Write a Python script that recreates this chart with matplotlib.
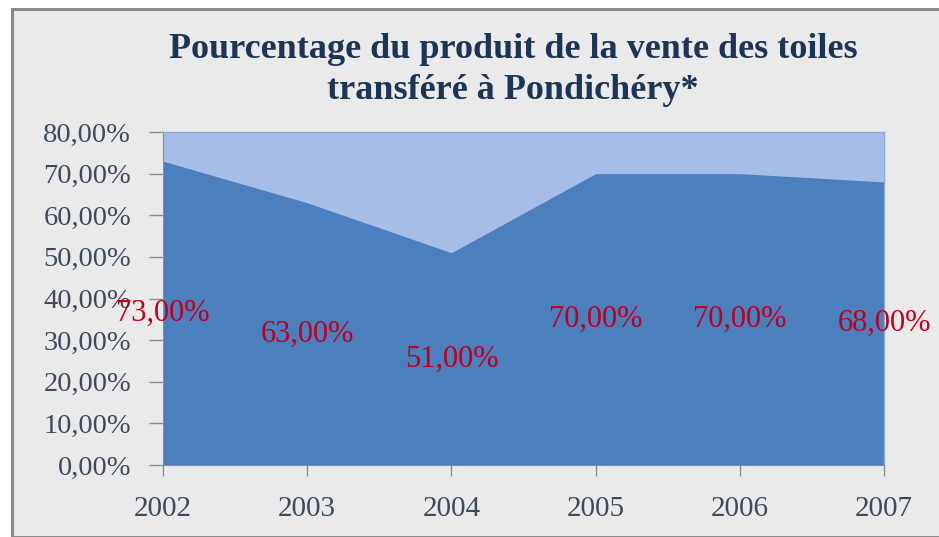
import matplotlib
matplotlib.use("Agg")
import matplotlib.pyplot as plt
from matplotlib.patches import Rectangle

years = ["2002", "2003", "2004", "2005", "2006", "2007"]
values = [73.0, 63.0, 51.0, 70.0, 70.0, 68.0]
labels = ["73,00%", "63,00%", "51,00%", "70,00%", "70,00%", "68,00%"]
yticks = [0, 10, 20, 30, 40, 50, 60, 70, 80]
yticklabels = ["0,00%", "10,00%", "20,00%", "30,00%", "40,00%", "50,00%", "60,00%", "70,00%", "80,00%"]
title = "Pourcentage du produit de la vente des toiles\ntransféré à Pondichéry*"

plt.rcParams['font.family'] = ['Liberation Serif', 'DejaVu Serif']

W, H = 939, 537
fig = plt.figure(figsize=(W / 100, H / 100), dpi=100, facecolor="white")

# chart background panel with border
fig.patches.append(Rectangle((12 / W, 0), 1 - 12 / W + 0.01, 1 - 9 / H,
                             transform=fig.transFigure, facecolor="#eaeaea",
                             edgecolor="#8a8a8a", linewidth=2.2, zorder=-5))

ax = fig.add_axes([163 / W, 1 - 465 / H, (884 - 163) / W, (465 - 132) / H])
ax.set_zorder(2)
ax.set_facecolor("#a6bee7")
x = list(range(len(years)))
ax.fill_between(x, 0, values, color="#4b7fbe", linewidth=0, zorder=2)

ax.set_xlim(0, len(years) - 1)
ax.set_ylim(0, 80)
ax.set_yticks(yticks)
ax.set_yticklabels(yticklabels)
ax.set_xticks(x)
ax.set_xticklabels(years)

tick_color = "#3d4a5c"
ax.tick_params(axis="y", direction="out", length=10, width=1, color="#8c8c8c",
               labelsize=20.5, labelcolor=tick_color, pad=13)
ax.tick_params(axis="x", direction="out", length=8, width=1, color="#8c8c8c",
               labelsize=21, labelcolor=tick_color, pad=14)
for s in ["top", "right"]:
    ax.spines[s].set_color("#8fa8d4")
    ax.spines[s].set_linewidth(1)
ax.spines["left"].set_color("#8c8c8c")
ax.spines["bottom"].set_color("#8c8c8c")

for xi, v, lab in zip(x, values, labels):
    ax.text(xi, v / 2, lab, ha="center", va="center", fontsize=22,
            color="#c0001a", zorder=5, clip_on=False)

fig.text(513 / W, 1 - 70 / H, title, ha="center", va="center", fontsize=26,
         fontweight="bold", color="#1c3557", linespacing=1.3)

fig.savefig("out.png", dpi=100, facecolor="white")
